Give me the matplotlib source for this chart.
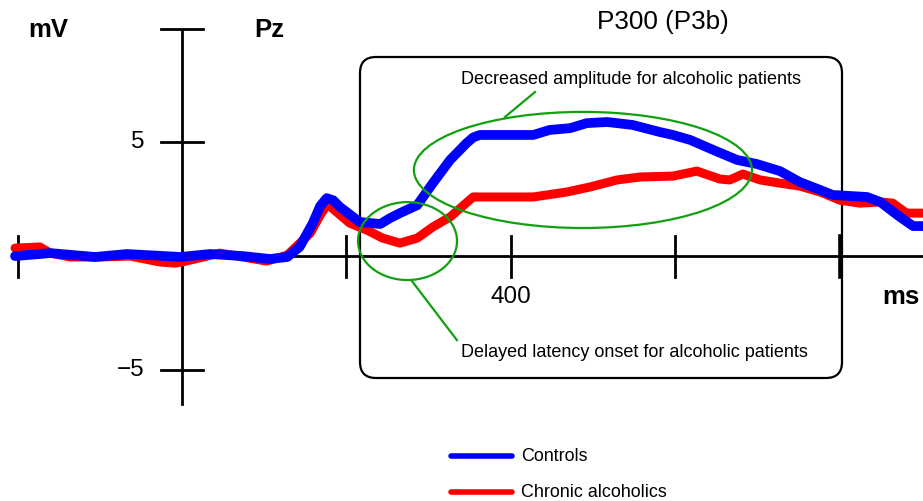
import numpy as np
import matplotlib
matplotlib.use("Agg")
import matplotlib.pyplot as plt
from matplotlib.patches import Ellipse, FancyBboxPatch
from matplotlib.transforms import Affine2D

plt.rcParams['font.family'] = ['Liberation Sans', 'DejaVu Sans']

# ERP at Pz, time in ms, amplitude in mV
t_controls = [-203, -160, -106, -67, -2, 34, 74, 107, 128, 143, 159, 168, 176,
              184, 192, 216, 241, 253, 265, 286, 305, 326, 346, 354, 362, 427,
              447, 472, 492, 517, 548, 581, 597, 618, 646, 675, 699, 727, 751,
              776, 791, 833, 849, 873, 889, 901]
v_controls = [0.0, 0.13, -0.04, 0.09, -0.04, 0.09, 0.0, -0.13, -0.04, 0.40,
              1.45, 2.20, 2.55, 2.45, 2.16, 1.50, 1.41, 1.67, 1.89, 2.24, 3.21,
              4.23, 4.97, 5.22, 5.33, 5.33, 5.55, 5.63, 5.85, 5.90, 5.77, 5.46,
              5.33, 5.11, 4.67, 4.23, 4.05, 3.74, 3.26, 2.91, 2.69, 2.60, 2.38,
              1.72, 1.32, 1.32]

t_alcoholics = [-203, -173, -160, -136, -100, -63, -27, -8, 0, 46, 103, 128,
                156, 168, 177, 186, 204, 225, 244, 265, 286, 305, 326, 354,
                387, 427, 468, 496, 529, 557, 597, 626, 654, 666, 682, 703,
                727, 751, 776, 800, 824, 849, 864, 881, 901]
v_alcoholics = [0.35, 0.40, 0.13, -0.04, -0.04, 0.0, -0.26, -0.31, -0.26, 0.13,
                -0.22, 0.04, 1.01, 1.80, 2.29, 2.00, 1.45, 1.14, 0.79, 0.57,
                0.79, 1.28, 1.72, 2.60, 2.60, 2.60, 2.82, 3.04, 3.35, 3.48,
                3.52, 3.74, 3.39, 3.35, 3.61, 3.35, 3.21, 3.08, 2.82, 2.46,
                2.33, 2.38, 2.33, 1.89, 1.89]

x_ticks = [-200, 200, 400, 600, 800]
y_ticks = [10, 5, -5]
y_tick_labels = {5: '5', -5: '\u22125'}

W, H = 923, 501
fig = plt.figure(figsize=(W / 100, H / 100), dpi=100)
ax = fig.add_axes([0, 0, 1, 1])
ax.set_xlim(-221.3, 901)
ax.set_ylim(-10.78, 11.27)
ax.axis('off')

# pixel coordinates (origin top-left) for the rounded box
pix = Affine2D().scale(1 / W, -1 / H).translate(0, 1) + fig.transFigure

# axes
ax.plot([-203, 901], [0, 0], color='black', lw=2, zorder=2)
ax.plot([0, 0], [-6.5, 9.9], color='black', lw=2, zorder=2)
for xt in x_ticks:
    ax.plot([xt, xt], [-0.9, 0.9], color='black', lw=2.6 if xt == 800 else 2,
            zorder=2)
for yt in y_ticks:
    ax.plot([-25, 25], [yt, yt], color='black', lw=2, zorder=2)
    if yt in y_tick_labels:
        ax.text(-46, yt, y_tick_labels[yt], ha='right', va='center',
                fontsize=17.5)
ax.text(400, -1.8, '400', ha='center', va='center', fontsize=17.5)
ax.text(-163, 9.95, 'mV', ha='center', va='center', fontsize=18.5,
        fontweight='bold')
ax.text(106, 9.95, 'Pz', ha='center', va='center', fontsize=18.5,
        fontweight='bold')
ax.text(852, -1.8, 'ms', ha='left', va='center', fontsize=18.5,
        fontweight='bold')
ax.text(663 / 0.8225 - 221.3, 10.3, 'P300 (P3b)', ha='center', va='center',
        fontsize=18.8)

# P300 box
box = FancyBboxPatch((360, 57), 482, 321,
                     boxstyle='round,pad=0,rounding_size=16',
                     transform=pix, fill=False, ec='black', lw=1.6, zorder=1)
ax.add_patch(box)

# waveforms
ax.plot(t_alcoholics, v_alcoholics, color='#ff0000', lw=6.5,
        solid_capstyle='round', solid_joinstyle='round', zorder=3)
ax.plot(t_controls, v_controls, color='#0000ff', lw=7,
        solid_capstyle='round', solid_joinstyle='round', zorder=4)

# annotations
green = '#10a010'
ax.add_patch(Ellipse((487.5, 3.79), 411, 5.11, fill=False, ec=green, lw=1.6,
                     zorder=5))
ax.add_patch(Ellipse((274.2, 0.66), 120.4, 3.43, fill=False, ec=green,
                     lw=1.6, zorder=5))
ax.plot([392.7, 429.2], [6.12, 7.22], color=green, lw=1.6, zorder=5)
ax.plot([279.6, 334.3], [-1.10, -3.70], color=green, lw=1.6, zorder=5)
ax.text(339.2, 7.79, 'Decreased amplitude for alcoholic patients',
        ha='left', va='center', fontsize=13)
ax.text(339.2, -4.23, 'Delayed latency onset for alcoholic patients',
        ha='left', va='center', fontsize=13)

# legend
ax.plot([327, 401], [-8.8, -8.8], color='#0000ff', lw=4,
        solid_capstyle='round')
ax.plot([327, 401], [-10.39, -10.39], color='#ff0000', lw=4,
        solid_capstyle='round')
ax.text(412, -8.8, 'Controls', ha='left', va='center', fontsize=12.9)
ax.text(412, -10.39, 'Chronic alcoholics', ha='left', va='center',
        fontsize=12.9)

fig.savefig('out.png', dpi=100)
